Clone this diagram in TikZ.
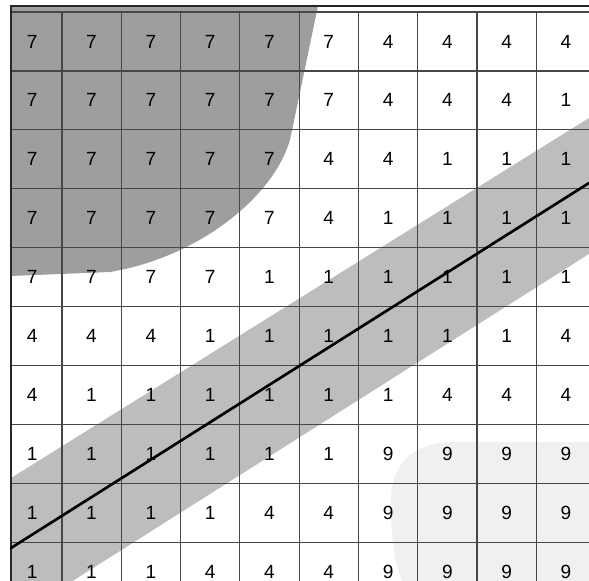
\documentclass[tikz,border=0pt]{standalone}
\usepackage{fontspec}
\setmainfont{Liberation Sans}
\begin{document}
\begin{tikzpicture}[
    x=0.75pt, y=-0.75pt,
    gridline/.style={draw=black!72, line width=0.9pt},
    frameline/.style={draw=black!85, line width=1.2pt},
    cellnum/.style={font=\fontsize{14.3}{16}\selectfont, inner sep=0pt},
    darkzone/.style={fill=black!38},
    bandzone/.style={fill=black!26},
    dotzone/.style={fill=black!6},
    axisline/.style={line width=2pt, line cap=round}
  ]
  \useasboundingbox (0,0) rectangle (589,581);

  % Zones
  \fill[dotzone] (589,442) -- (450,442) .. controls (408,444) and (392,468) .. (391,498)
    .. controls (390,535) and (395,565) .. (402,581) -- (589,581) -- cycle;
  \fill[darkzone] (11,6) -- (318,6) -- (290,140) .. controls (272,200) and (195,258) .. (110,272)
    -- (11,276) -- cycle;
  \fill[bandzone] (11,478) -- (589,118) -- (589,254) -- (11,620) -- cycle;

  % Grid
  \foreach \i in {1,...,9}
    \draw[gridline] ({2.6+59.3*\i},12) -- ({2.6+59.3*\i},581);
  \foreach \j in {0,...,9}
    \draw[gridline] (11,{12+58.95*\j}) -- (589,{12+58.95*\j});
  \draw[frameline] (589,6) -- (11,6) -- (11,581);

  % Centre line of the band
  \coordinate (lineA) at (11,548);
  \coordinate (lineB) at (589,183);
  \draw[axisline] (lineA) -- (lineB);

  % Cell values
  \foreach \vals [count=\r] in {
      {7,7,7,7,7,7,4,4,4,4},
      {7,7,7,7,7,7,4,4,4,1},
      {7,7,7,7,7,4,4,1,1,1},
      {7,7,7,7,7,4,1,1,1,1},
      {7,7,7,7,1,1,1,1,1,1},
      {4,4,4,1,1,1,1,1,1,4},
      {4,1,1,1,1,1,1,4,4,4},
      {1,1,1,1,1,1,9,9,9,9},
      {1,1,1,1,4,4,9,9,9,9},
      {1,1,1,4,4,4,9,9,9,9}}
    \foreach \v [count=\c] in \vals
      \node[cellnum] (n-\r-\c) at ({2.6+59.3*(\c-0.5)},{12+58.95*(\r-0.5)}) {\v};

\end{tikzpicture}
\end{document}
